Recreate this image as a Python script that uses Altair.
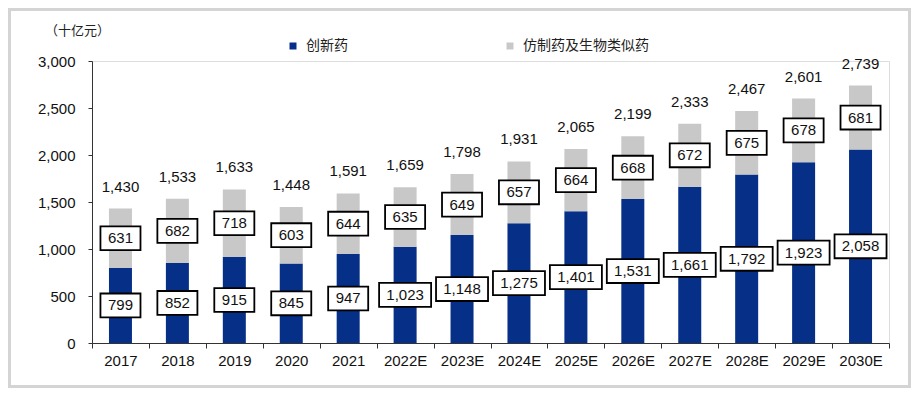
import altair as alt
import pandas as pd

years = ["2017", "2018", "2019", "2020", "2021", "2022E", "2023E", "2024E",
         "2025E", "2026E", "2027E", "2028E", "2029E", "2030E"]
innovative = [799, 852, 915, 845, 947, 1023, 1148, 1275, 1401, 1531, 1661, 1792, 1923, 2058]
generic = [631, 682, 718, 603, 644, 635, 649, 657, 664, 668, 672, 675, 678, 681]
totals = [1430, 1533, 1633, 1448, 1591, 1659, 1798, 1931, 2065, 2199, 2333, 2467, 2601, 2739]
series = ["创新药", "仿制药及生物类似药"]
colors = ["#062f88", "#c8c8c8"]

rows = []
for i, y in enumerate(years):
    a, b = innovative[i], generic[i]
    rows.append(dict(year=y, series=series[0], lo=0, hi=a, value=a, mid=a / 2,
                     w="short" if a < 1000 else "long", order=0))
    rows.append(dict(year=y, series=series[1], lo=a, hi=a + b, value=b, mid=a + b / 2,
                     w="short" if b < 1000 else "long", order=1))
df = pd.DataFrame(rows)
tot = pd.DataFrame(dict(year=years, total=totals))

FONT = "Liberation Sans"
CJK = "Noto Sans CJK SC"

xenc = alt.X("year:N", sort=years,
             scale=alt.Scale(paddingInner=0, paddingOuter=0),
             axis=alt.Axis(title=None, labelAngle=0, tickBand="extent",
                           labelFont=FONT, labelFontSize=15, labelColor="#111",
                           domainColor="#333", tickColor="#333", tickSize=5,
                           labelPadding=5))

yscale = alt.Scale(domain=[0, 3000])

bars = alt.Chart(df).mark_bar(width=23).encode(
    x=xenc,
    y=alt.Y("lo:Q", scale=yscale,
            axis=alt.Axis(values=[0, 500, 1000, 1500, 2000, 2500, 3000], format=",.0f",
                          grid=False, title="（十亿元）", titleAngle=0, titleX=-15,
                          titleY=-31, titleAlign="center", titleBaseline="middle",
                          titleFont=CJK, titleFontSize=13, titleFontWeight="normal",
                          titleColor="#222", labelFont=FONT, labelFontSize=15,
                          labelColor="#111", domainColor="#333", tickColor="#333",
                          tickSize=4, labelPadding=13)),
    y2="hi:Q",
    color=alt.Color("series:N", scale=alt.Scale(domain=series, range=colors),
                    legend=alt.Legend(title=None, orient="none", legendX=194, legendY=-22,
                                      direction="horizontal", symbolType="square",
                                      symbolSize=49, symbolStrokeWidth=0,
                                      labelFont=CJK, labelFontSize=14, labelColor="#222",
                                      labelOffset=6, columnPadding=155)),
    order=alt.Order("order:Q"),
)

path_short = "M-0.77,-0.46H0.77V0.46H-0.77Z"
path_long = "M-1,-0.46H1V0.46H-1Z"

boxes = alt.Chart(df).mark_point(filled=True, fill="white", stroke="black",
                                 strokeWidth=1.8, opacity=1, size=2704).encode(
    x=alt.X("year:N", sort=years),
    y=alt.Y("mid:Q", scale=yscale),
    shape=alt.Shape("w:N", scale=alt.Scale(domain=["short", "long"],
                                           range=[path_short, path_long]), legend=None),
)

labels = alt.Chart(df).mark_text(font=FONT, fontSize=15, color="#111",
                                 baseline="middle", align="center").encode(
    x=alt.X("year:N", sort=years),
    y=alt.Y("mid:Q", scale=yscale),
    text=alt.Text("value:Q", format=",.0f"),
)

total_labels = alt.Chart(tot).mark_text(font=FONT, fontSize=15, color="#111",
                                        baseline="middle", align="center", dy=-22).encode(
    x=alt.X("year:N", sort=years),
    y=alt.Y("total:Q", scale=yscale),
    text=alt.Text("total:Q", format=",.0f"),
)

frame = alt.Chart(alt.Data(values=[{}])).mark_rect(
    fillOpacity=0, stroke="#d4d4d4", strokeWidth=3).encode(
    x=alt.value(-82.5), x2=alt.value(817.5), y=alt.value(-51.5), y2=alt.value(325.5))

chart = alt.layer(bars, boxes, labels, total_labels, frame).properties(
    width=797, height=282,
    autosize=alt.AutoSizeParams(type="none"),
    padding={"left": 84, "top": 53, "right": 22, "bottom": 45},
).configure_view(stroke=None).configure(background="white")

chart.save("out.html", embed_options={"renderer": "svg", "actions": False})
